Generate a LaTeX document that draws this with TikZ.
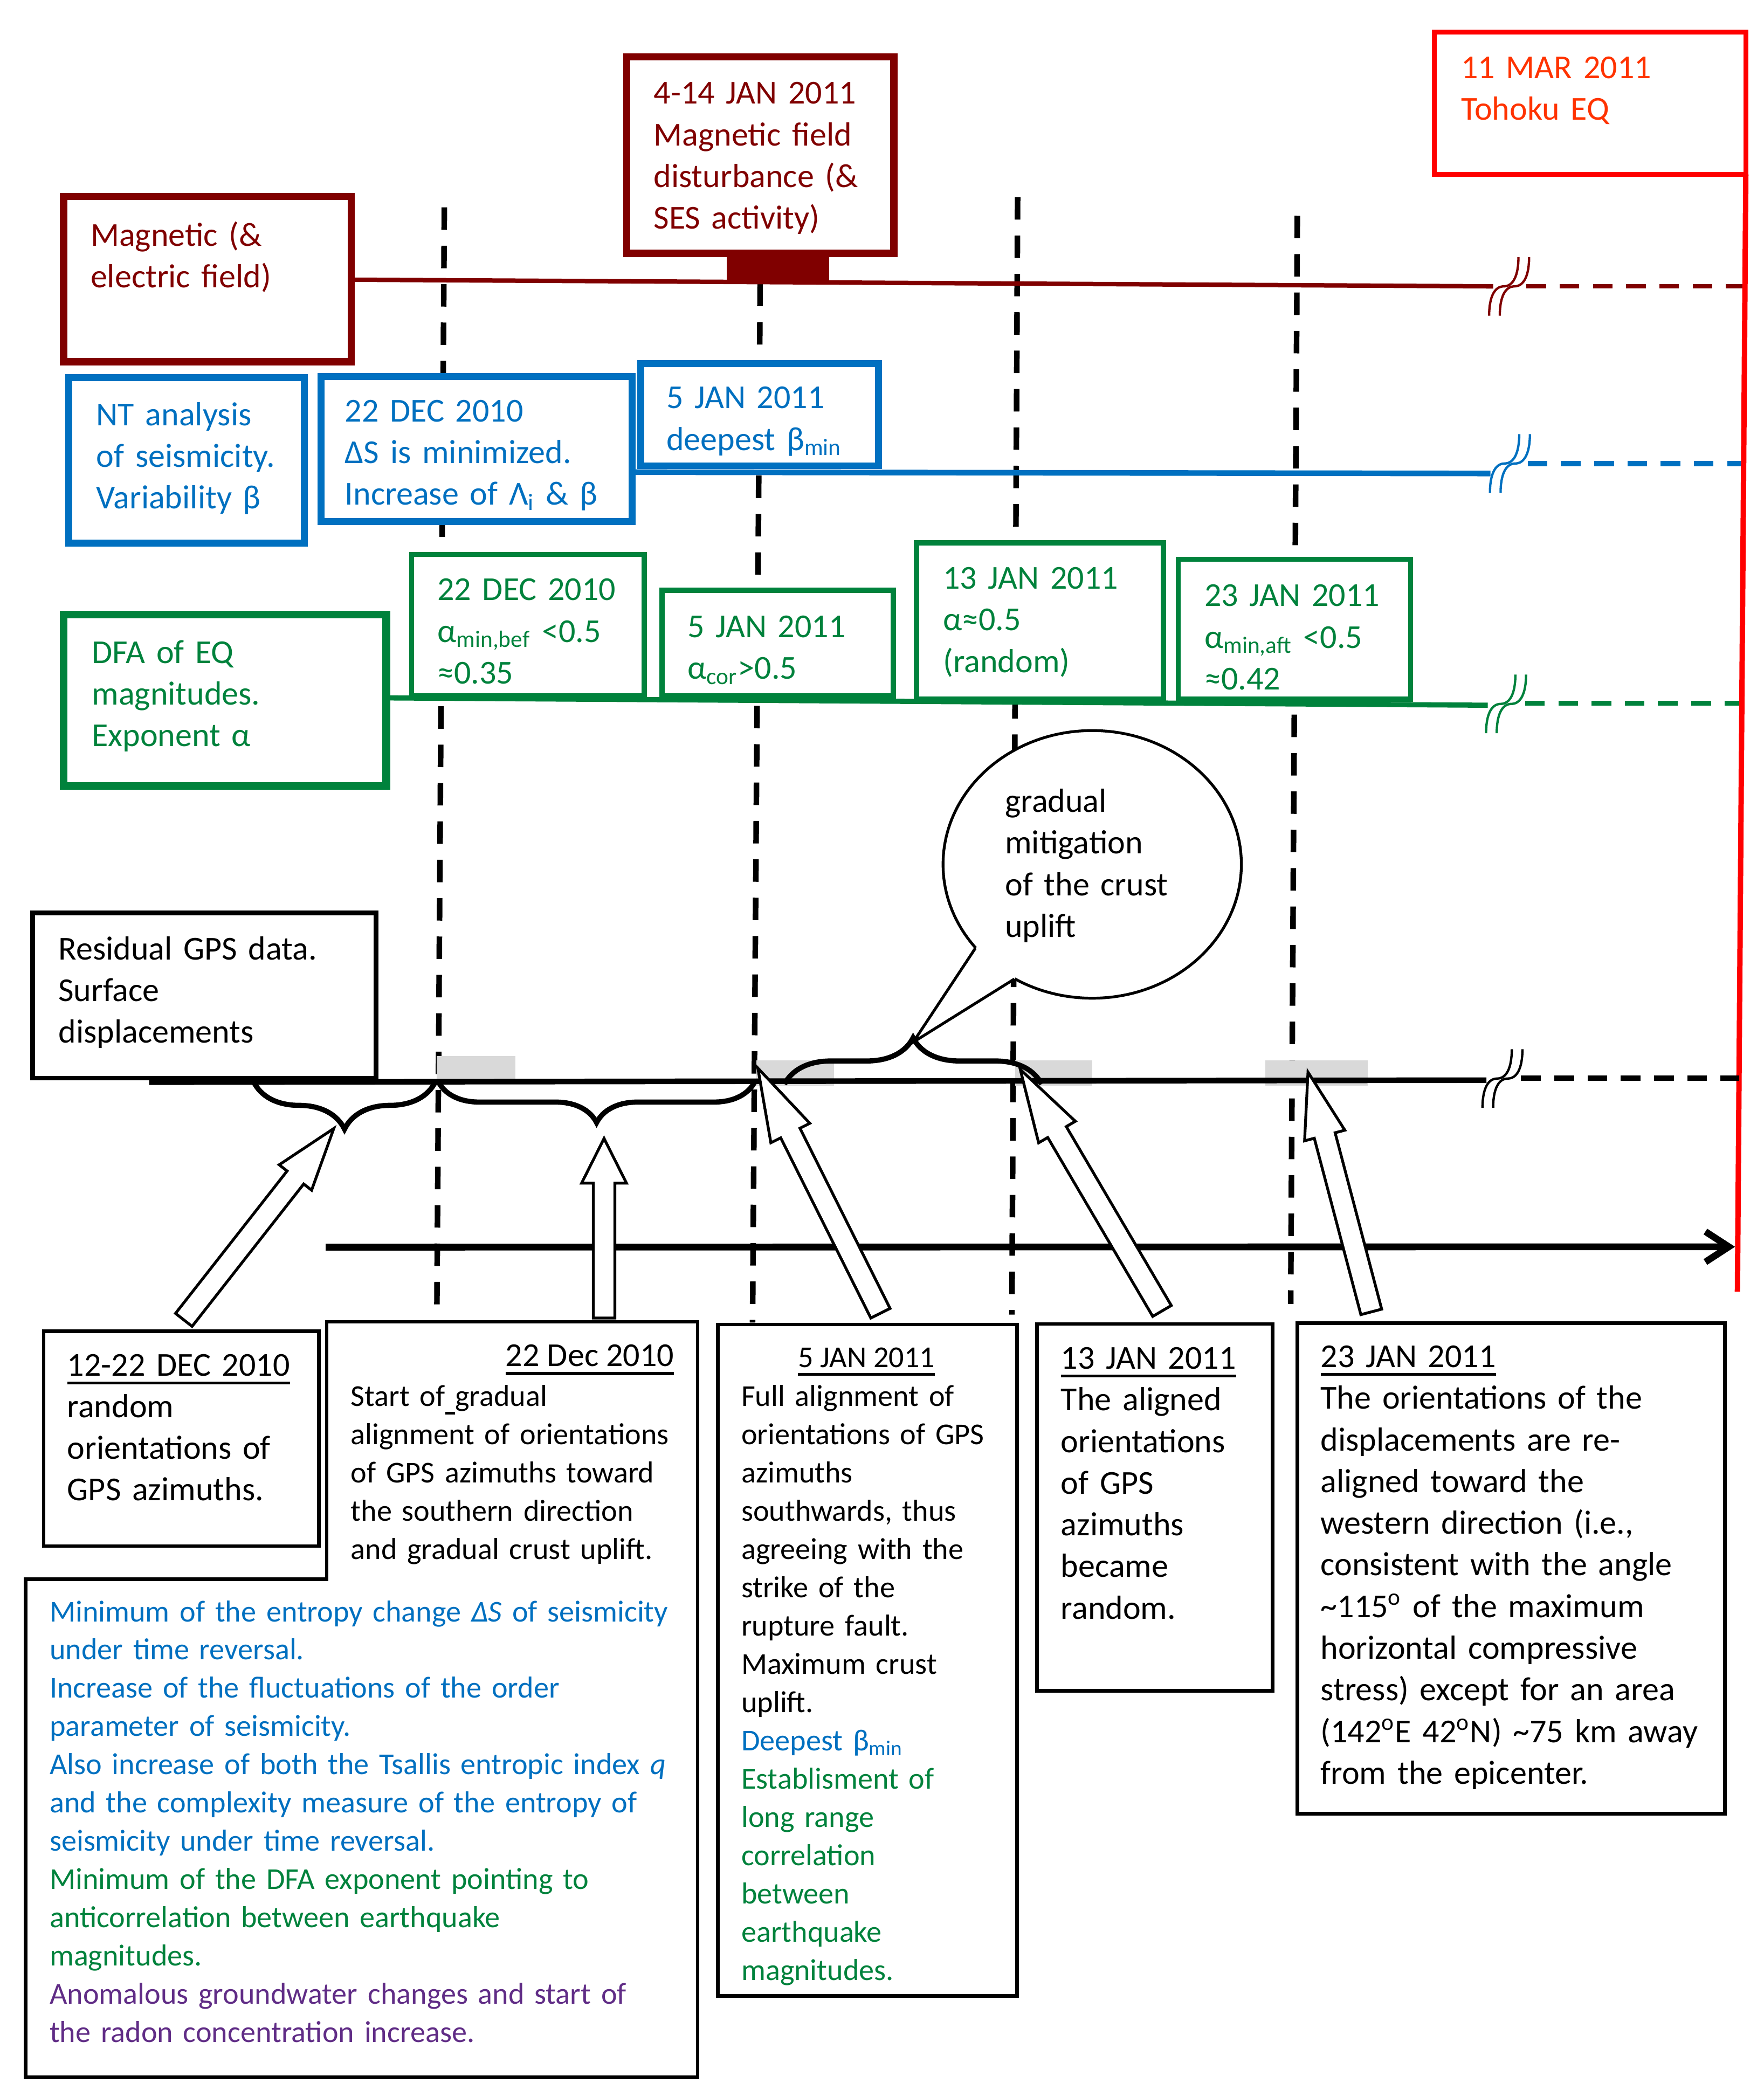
\documentclass[tikz,border=0pt]{standalone}
\usepackage{fontspec}
\setmainfont{Carlito}
\usetikzlibrary{fit,calc,shapes.geometric,decorations.pathreplacing,arrows.meta}
\definecolor{cdred}{RGB}{128,0,0}
\definecolor{cblue}{RGB}{0,112,192}
\definecolor{cgreen}{RGB}{0,130,60}
\definecolor{cred}{RGB}{255,0,0}
\definecolor{corange}{RGB}{255,51,0}
\definecolor{cpurple}{RGB}{96,44,134}
\definecolor{cgray}{RGB}{217,217,217}
\newcommand\myul[1]{\leavevmode\setbox0=\hbox{#1}\rlap{\rule[-3.6pt]{\wd0}{1.2pt}}\box0}
\newcommand\blockarrow[5]{%
  \coordinate (#1h) at ($(#2)!#5!(#1)$);
  \draw[blockarr] ($(#1)!#3!90:(#2)$) -- ($(#1h)!#3!90:(#2)$) -- ($(#1h)!#4!90:(#2)$) -- (#2)
    -- ($(#1h)!#4!-90:(#2)$) -- ($(#1h)!#3!-90:(#2)$) -- ($(#1)!#3!-90:(#2)$) -- cycle;}
\newcommand\breakmark[3]{%
  \draw[brk,#3] (#1,#2+22) .. controls (#1,#2+8) and (#1+4,#2) .. (#1+11,#2) .. controls (#1+18,#2) and (#1+22,#2-8) .. (#1+22,#2-22);
  \draw[brk,#3] (#1+8,#2+22) .. controls (#1+8,#2+8) and (#1+12,#2) .. (#1+19,#2) .. controls (#1+26,#2) and (#1+30,#2-8) .. (#1+30,#2-22);}
\begin{document}
\begin{tikzpicture}[x=0.02cm,y=-0.02cm,
  box/.style={draw, fill=white, inner sep=0pt, outer sep=0pt},
  tl/.style={inner sep=0pt, outer sep=0pt, anchor=base west, align=left, text width=12cm, font=\fontsize{14.3}{17.8}\selectfont},
  ts/.style={inner sep=0pt, outer sep=0pt, anchor=base west, align=left, text width=12cm, font=\fontsize{12.95}{16.35}\selectfont},
  vdash/.style={line width=2.4pt, dash pattern=on 9.6pt off 6.8pt},
  hdash/.style={dash pattern=on 8.4pt off 5.8pt},
  brk/.style={line width=1pt},
  bracestyle/.style={line width=2.2pt, decorate},
  blockarr/.style={draw=black, fill=white, line width=1.2pt, line join=miter},
  bbox/.style={draw, fill=white, line width=1.5pt}]
\useasboundingbox (0,0) rectangle (1324,1574.5);

% vertical dashed date lines
\coordinate (v1a) at (333.6,155.7); \coordinate (v1b) at (328,983);
\coordinate (v2a) at (570.7,213);   \coordinate (v2b) at (565,993);
\coordinate (v3a) at (764,148);     \coordinate (v3b) at (759.7,987);
\coordinate (v4a) at (974,162);     \coordinate (v4b) at (969,979);
\draw[vdash] (v1a) -- (v1b);
\draw[vdash] (v2a) -- (v2b);
\draw[vdash] (v3a) -- (v3b);
\draw[vdash] (v4a) -- (v4b);

% horizontal time lines
\coordinate (mA) at (263.8,210); \coordinate (mB) at (1121,215);
\coordinate (mC) at (1146,215);  \coordinate (mD) at (1310.1,215);
\draw[cdred, line width=1.9pt] (mA) -- (mB);
\draw[cdred, line width=1.9pt, hdash] (mC) -- (mD);
\breakmark{1118}{215}{cdred}

\coordinate (bA) at (474.6,354.5); \coordinate (bB) at (1119,355.5);
\coordinate (bC) at (1147,348);    \coordinate (bD) at (1309.1,348);
\draw[cblue, line width=2.4pt] (bA) -- (bB);
\draw[cblue, line width=2.4pt, hdash] (bC) -- (bD);
\breakmark{1118.6}{348}{cblue}

\coordinate (gA) at (290,524);   \coordinate (gB) at (1117,529.5);
\coordinate (gC) at (1145,528);  \coordinate (gD) at (1307.7,528);
\draw[cgreen, line width=2.2pt] (gA) -- (gB);
\draw[cgreen, line width=2.2pt, hdash] (gC) -- (gD);
\breakmark{1115.7}{528.5}{cgreen}

% magnetic row
\node[fill=cdred, inner sep=0pt, outer sep=0pt, fit={(545.7,193) (622.5,211.6)}] (magbar) {};
\node[box, draw=cdred, line width=3.1pt, fit={(47.8,147.6) (263.8,271.5)}] (mag) {};
\node[tl, text=cdred] (magT) at (68,184.6) {Magnetic (\&\\electric field)};
\node[box, draw=cdred, line width=3.1pt, fit={(470.5,42.6) (671,190.3)}] (jan414) {};
\node[tl, text=cdred] (jan414T) at (490.8,78.1) {4-14 JAN 2011\\Magnetic field\\disturbance (\&\\SES activity)};

% earthquake
\node[box, draw=cred, line width=2.1pt, fit={(1077,24) (1310.7,131)}] (eq) {};
\node[tl, text=corange] (eqT) at (1097,58.7) {11 MAR 2011\\Tohoku EQ};
\coordinate (eqA) at (1310.7,131); \coordinate (eqB) at (1304.4,969.8);
\draw[cred, line width=2.3pt] (eqA) -- (eqB);

% NT row
\node[box, draw=cblue, line width=2.9pt, fit={(51.7,283.6) (228.4,407.7)}] (nt) {};
\node[tl, text=cblue] (ntT) at (72.4,319.5) {NT analysis\\of seismicity.\\Variability β};
\node[box, draw=cblue, line width=2.9pt, fit={(241,282.8) (474.6,391.7)}] (dec22b) {};
\node[tl, text=cblue] (dec22bT) at (259,316.7) {22 DEC 2010\\ΔS is minimized.\\Increase of Λ\textsubscript{i} \& β};
\node[box, draw=cblue, line width=2.9pt, fit={(481,272.9) (659.5,349.7)}] (jan5b) {};
\node[tl, text=cblue] (jan5bT) at (500.4,306.7) {5 JAN 2011\\deepest β\textsubscript{min}};

% DFA row
\node[box, draw=cgreen, line width=3.3pt, fit={(47.8,461.5) (290,590)}] (dfa) {};
\node[tl, text=cgreen] (dfaT) at (69,498) {DFA of EQ\\magnitudes.\\Exponent α};
\node[box, draw=cgreen, line width=2.2pt, fit={(309,416.2) (483.7,522.5)}] (dec22g) {};
\node[tl, text=cgreen] (dec22gT) at (328.4,450.8) {22 DEC 2010\\α\textsubscript{min,bef} <0.5\\≈0.35};
\node[box, draw=cgreen, line width=2.2pt, fit={(497,443.2) (670.7,522.5)}] (jan5g) {};
\node[tl, text=cgreen] (jan5gT) at (516.2,478.6) {5 JAN 2011\\α\textsubscript{cor}>0.5};
\node[box, draw=cgreen, line width=2.2pt, fit={(688,407.6) (873.5,525)}] (jan13g) {};
\node[tl, text=cgreen] (jan13gT) at (708,442.2) {13 JAN 2011\\α≈0.5\\(random)};
\node[box, draw=cgreen, line width=2.2pt, fit={(884.5,420) (1059,525)}] (jan23g) {};
\node[tl, text=cgreen] (jan23gT) at (904.3,455.3) {23 JAN 2011\\α\textsubscript{min,aft} <0.5\\≈0.42};

% GPS row
\node[fill=cgray, inner sep=0pt, outer sep=0pt, fit={(328,793) (387,812.5)}] (g1) {};
\node[fill=cgray, inner sep=0pt, outer sep=0pt, fit={(568,796) (626,815)}] (g2) {};
\node[fill=cgray, inner sep=0pt, outer sep=0pt, fit={(762,796) (820,815)}] (g3) {};
\node[fill=cgray, inner sep=0pt, outer sep=0pt, fit={(950,796) (1027,815)}] (g4) {};
\node[box, draw=black, line width=2pt, fit={(24.6,685.4) (282.2,809.5)}] (gps) {};
\node[tl] (gpsT) at (43.9,720.6) {Residual GPS data.\\Surface\\displacements};
\coordinate (kA) at (112,812.5); \coordinate (kB) at (1116,811);
\coordinate (kC) at (1142,809.5); \coordinate (kD) at (1305.6,809.5);
\draw[line width=2.4pt] (kA) -- (kB);
\draw[line width=2.4pt, hdash] (kC) -- (kD);
\breakmark{1113}{809.8}{black}

% braces
\coordinate (br1a) at (327,812); \coordinate (br1b) at (190.3,812);
\coordinate (br2a) at (566.8,812); \coordinate (br2b) at (329,812);
\coordinate (br3a) at (589,814); \coordinate (br3b) at (782,814);
\draw[bracestyle, decoration={brace, amplitude=20.4pt}] (br1a) -- (br1b);
\draw[bracestyle, decoration={brace, amplitude=17.6pt}] (br2a) -- (br2b);
\draw[bracestyle, decoration={brace, amplitude=19.8pt}] (br3a) -- (br3b);

% speech bubble
\node[ellipse, draw, fill=white, line width=1.2pt, inner sep=0pt, minimum width=4.48cm, minimum height=4.02cm] (bubble) at (820,649) {};
\coordinate (bt1) at (732.3,711.9); \coordinate (bt2) at (761.5,735.1); \coordinate (btip) at (685.6,782.5);
\fill[white] (btip) -- (bt1) -- ($(bt1)!10pt!(bubble.center)$) -- ($(bt2)!10pt!(bubble.center)$) -- (bt2) -- cycle;
\draw[line width=1.2pt, line join=miter] (bt1) -- (btip) -- (bt2);
\node[tl] (bubbleT) at (754.6,609.8) {gradual\\mitigation\\of the crust\\uplift};

% time axis
\coordinate (ta) at (244.5,936.4); \coordinate (tb) at (1302.6,936.1);
\draw[line width=2.9pt, -{Straight Barb[length=10pt, width=13pt]}] (ta) -- (tb);

% block arrows
\coordinate (A1t) at (138,991);      \coordinate (A1p) at (250.6,847.3);
\coordinate (A2t) at (453.5,989.6);  \coordinate (A2p) at (453.5,854.8);
\coordinate (A3t) at (661,986);      \coordinate (A3p) at (569,802);
\coordinate (A4t) at (872.4,984.3);  \coordinate (A4p) at (766,803);
\coordinate (A5t) at (1029.5,985);   \coordinate (A5p) at (982,805);
\blockarrow{A1t}{A1p}{4.5pt}{8.8pt}{26.6pt}
\blockarrow{A2t}{A2p}{4.6pt}{9.6pt}{19.1pt}
\blockarrow{A3t}{A3p}{4.6pt}{9.3pt}{31pt}
\blockarrow{A4t}{A4p}{4.6pt}{9.1pt}{31pt}
\blockarrow{A5t}{A5p}{4.6pt}{8.9pt}{28pt}

% bottom boxes
\node[bbox, inner sep=0pt, outer sep=0pt, fit={(32.7,999.5) (239.5,1160.8)}] (b1222) {};
\node[tl] (b1222T) at (50.5,1033) {\myul{12-22 DEC 2010}\\random\\orientations of\\GPS azimuths.};

\coordinate (p1) at (245.3,992.5); \coordinate (p2) at (523.8,992.5);
\coordinate (p3) at (523.8,1559.8); \coordinate (p4) at (19.3,1559.8);
\coordinate (p5) at (19.3,1185.8); \coordinate (p6) at (245.3,1185.8);
\draw[bbox] (p1) -- (p2) -- (p3) -- (p4) -- (p5) -- (p6) -- cycle;
\node[inner sep=0pt, outer sep=0pt, anchor=base east, font=\fontsize{14.3}{17.8}\selectfont] (d22H) at (506,1026) {\myul{22 Dec 2010}};
\node[ts] (d22T) at (263.4,1055.8) {Start of\myul{ }gradual\\alignment of orientations\\of GPS azimuths toward\\the southern direction\\and gradual crust uplift.};
\node[ts, text=cblue] (bigT) at (37.3,1217.5) {Minimum of the entropy change \textit{ΔS} of seismicity\\under time reversal.\\Increase of the fluctuations of the order\\parameter of seismicity.\\Also increase of both the Tsallis entropic index \textit{q}\\and the complexity measure of the entropy of\\seismicity under time reversal.\\\color{cgreen}Minimum of the DFA exponent pointing to\\anticorrelation between earthquake\\magnitudes.\\\color{cpurple}Anomalous groundwater changes and start of\\the radon concentration increase.};

\node[bbox, inner sep=0pt, outer sep=0pt, fit={(539,994.5) (763.5,1498.5)}] (b5) {};
\node[inner sep=0pt, outer sep=0pt, anchor=base west, font=\fontsize{12.95}{16.35}\selectfont] (b5H) at (599.2,1026.7) {\myul{5 JAN 2011}};
\node[ts] (b5T) at (556.6,1055.8) {Full alignment of\\orientations of GPS\\azimuths\\southwards, thus\\agreeing with the\\strike of the\\rupture fault.\\Maximum crust\\uplift.\\\color{cblue}Deepest β\textsubscript{min}\\\color{cgreen}Establisment of\\long range\\correlation\\between\\earthquake\\magnitudes.};

\node[bbox, inner sep=0pt, outer sep=0pt, fit={(778.5,994) (955.5,1269.5)}] (b13) {};
\node[tl] (b13T) at (796.5,1027.9) {\myul{13 JAN 2011}\\The aligned\\orientations\\of GPS\\azimuths\\became\\random.};

\node[bbox, inner sep=0pt, outer sep=0pt, fit={(974,993.5) (1295,1361.7)}] (b23) {};
\node[tl] (b23T) at (991.5,1026.7) {\myul{23 JAN 2011}\\The orientations of the\\displacements are re-\\aligned toward the\\western direction (i.e.,\\consistent with the angle\\\textasciitilde115\textsuperscript{o} of the maximum\\horizontal compressive\\stress) except for an area\\(142\textsuperscript{o}E 42\textsuperscript{o}N) \textasciitilde75 km away\\from the epicenter.};
\end{tikzpicture}
\end{document}
